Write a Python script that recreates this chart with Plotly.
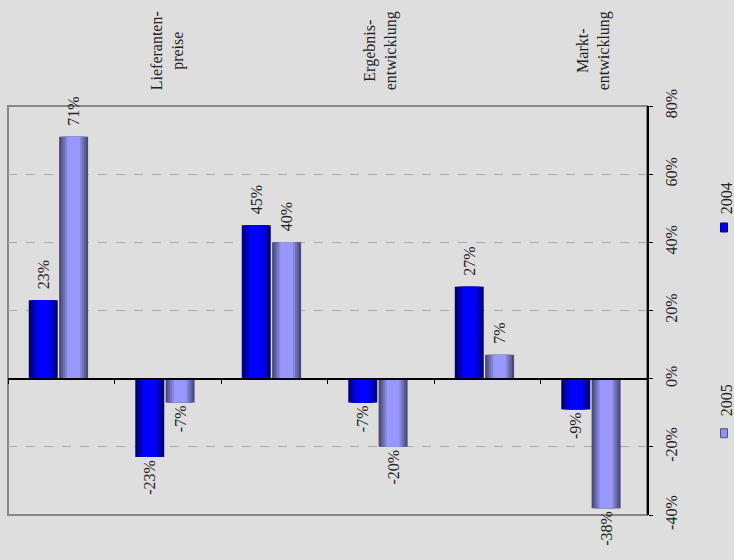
import plotly.graph_objects as go

# ---- data ----
categories = ["", "Lieferanten-<br>preise", "", "Ergebnis-<br>entwicklung", "", "Markt-<br>entwicklung"]
series_names = ["2004", "2005"]
values_2004 = [23, -23, 45, -7, 27, -9]
values_2005 = [71, -7, 40, -20, 7, -38]
y_ticks = [-40, -20, 0, 20, 40, 60, 80]
y_ticktext = ["-40%", "-20%", "0%", "20%", "40%", "60%", "80%"]

x_idx = list(range(len(categories)))
FONT = "Liberation Serif"
TXT = "#222222"
BG = "#dedede"
NB = "\u00a0"

def mix(c1, c2, t):
    a = [int(c1[i:i + 2], 16) for i in (1, 3, 5)]
    b = [int(c2[i:i + 2], 16) for i in (1, 3, 5)]
    return "#" + "".join(f"{round(a[k] + (b[k] - a[k]) * t):02x}" for k in range(3))

styles = {
    "2004": dict(edge="#000078", center="#0000ff", offset=-0.305),
    "2005": dict(edge="#4a4a78", center="#9898fc", offset=-0.02),
}
BAR_W = 0.272
fracs = [1.0, 0.86, 0.72, 0.58, 0.44]

def label(v):
    return (NB + NB + f"{v}%") if v >= 0 else f"{v}%"

fig = go.Figure()
for name, vals in zip(series_names, [values_2004, values_2005]):
    st = styles[name]
    for i, f in enumerate(fracs):
        t = i / (len(fracs) - 1)
        w = BAR_W * f
        off = st["offset"] + (BAR_W - w) / 2
        fig.add_trace(go.Bar(
            x=x_idx, y=vals, name=name, width=w, offset=off,
            marker=dict(color=mix(st["edge"], st["center"], t), line=dict(width=0)),
            text=[label(v) for v in vals] if i == 0 else None,
            textposition="outside" if i == 0 else "none",
            textangle=-90, constraintext="none", cliponaxis=False,
            textfont=dict(family=FONT, size=16, color=TXT),
            showlegend=False, hoverinfo="skip" if i else None,
        ))

# invisible trace for the category-tick axis on the zero line
fig.add_trace(go.Scatter(x=x_idx, y=values_2004, xaxis="x2", mode="markers",
                         marker=dict(opacity=0), showlegend=False, hoverinfo="skip"))

ymin, ymax = min(y_ticks), max(y_ticks)
fig.update_layout(
    width=734, height=560,
    margin=dict(l=8, r=87, t=106, b=45),
    paper_bgcolor=BG, plot_bgcolor=BG,
    barmode="overlay",
    font=dict(family=FONT, size=16, color=TXT),
    xaxis=dict(range=[-0.5, len(categories) - 0.5], showticklabels=False, ticks="",
               showgrid=False, zeroline=False, showline=False),
    xaxis2=dict(overlaying="x", anchor="free", position=(0 - ymin) / (ymax - ymin),
                range=[-0.5, len(categories) - 0.5],
                tickvals=[i - 0.5 for i in range(len(categories) + 1)],
                showticklabels=False, ticks="outside", ticklen=5, tickcolor="black",
                tickwidth=1, showline=True, linecolor="black", linewidth=1.5,
                showgrid=False, zeroline=False),
    yaxis=dict(range=[ymin, ymax], side="right", tickmode="array", tickvals=y_ticks,
               ticktext=y_ticktext, ticklabelstandoff=5,
               tickangle=-90, ticks="outside", ticklen=4, tickcolor="black",
               showline=True, linecolor="black", linewidth=1.5,
               showgrid=True, gridcolor="#a8a8a8", griddash="dash", gridwidth=1,
               zeroline=False, tickfont=dict(family=FONT, size=16, color=TXT)),
)

# plot border (left, top, bottom gray)
fig.add_shape(type="rect", xref="paper", yref="paper", x0=0, x1=1, y0=0, y1=1,
              line=dict(color="#888888", width=2), layer="below")

# category labels above the plot
for i, c in enumerate(categories):
    if c:
        fig.add_annotation(x=i, y=1, xref="x", yref="paper", text=c, textangle=-90,
                           showarrow=False, xanchor="center", yanchor="bottom",
                           yshift=14, align="center",
                           font=dict(family=FONT, size=16, color=TXT))

# manual legend (rotated text)
legend_items = [("2004", 0.703, 0.775, "#0000ee", "#000090"),
                ("2005", 0.200, 0.281, "#9090f0", "#505080")]
for name, sq_y, tx_y, fill, edge in legend_items:
    fig.add_shape(type="rect", xref="paper", yref="paper",
                  x0=1.115, x1=1.126, y0=sq_y - 0.011, y1=sq_y + 0.011,
                  fillcolor=fill, line=dict(color=edge, width=1))
    fig.add_annotation(x=1.124, y=tx_y, xref="paper", yref="paper", text=name,
                       textangle=-90, showarrow=False, xanchor="center", yanchor="middle",
                       font=dict(family=FONT, size=16, color=TXT))

fig.write_html("out.html")
